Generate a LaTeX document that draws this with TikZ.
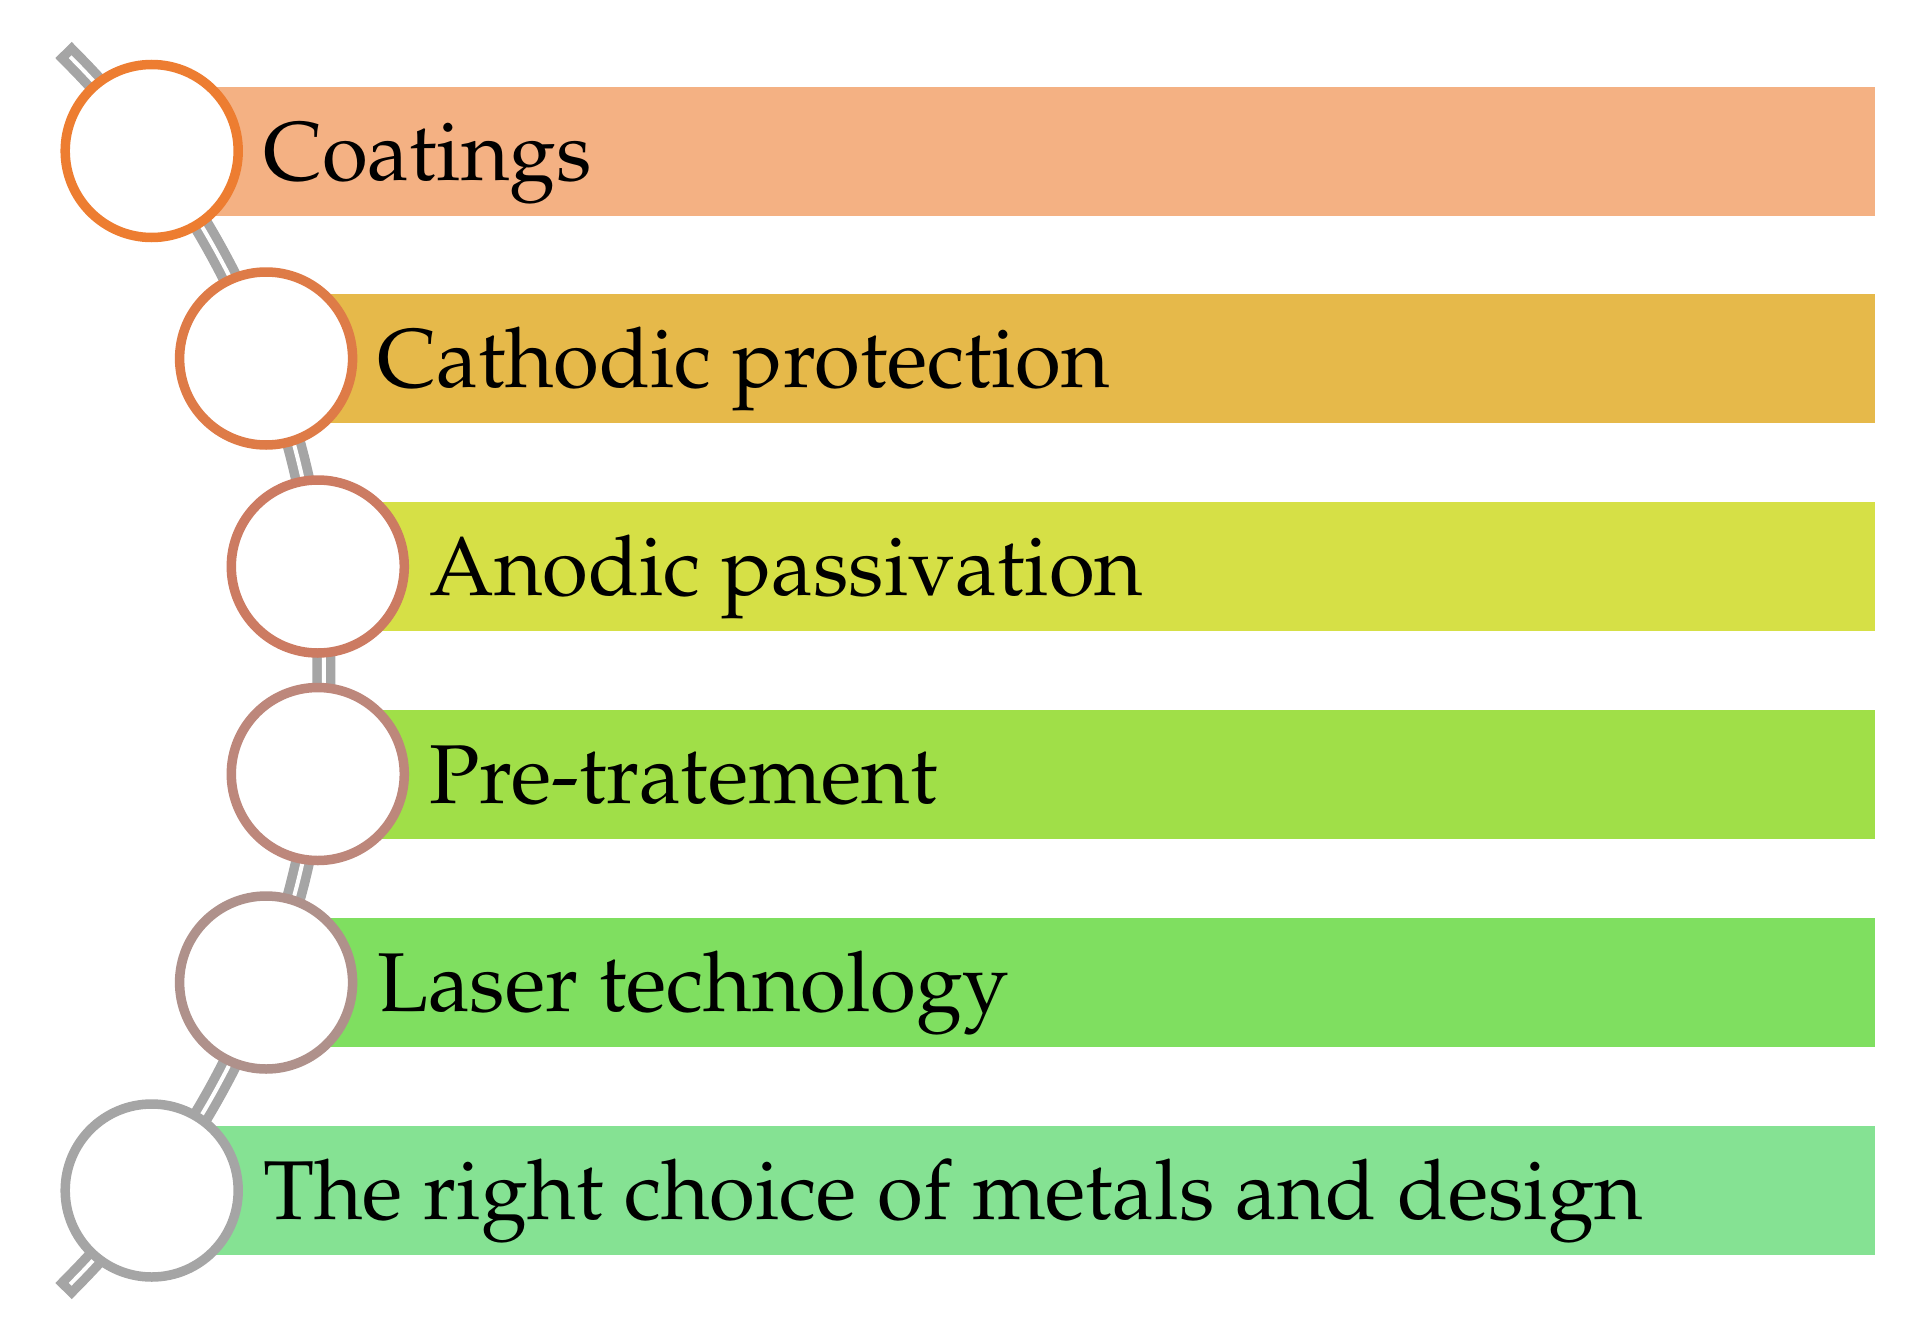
\documentclass[tikz,border=0pt]{standalone}
\usepackage[T1]{fontenc}
\usepackage{mathpazo}
\definecolor{barA}{HTML}{F4B183}
\definecolor{barB}{HTML}{E6B94A}
\definecolor{barC}{HTML}{D6E046}
\definecolor{barD}{HTML}{A0DF48}
\definecolor{barE}{HTML}{7FDF60}
\definecolor{barF}{HTML}{85E293}
\definecolor{ringA}{HTML}{ED7D31}
\definecolor{ringB}{HTML}{DE7B47}
\definecolor{ringC}{HTML}{CC7B62}
\definecolor{ringD}{HTML}{BD877B}
\definecolor{ringE}{HTML}{AF918B}
\definecolor{ringF}{HTML}{A5A5A5}
\definecolor{connc}{HTML}{A5A5A5}
\tikzset{
  conn/.style={draw=connc, double=white, line width=9.5pt, double distance=4pt, line cap=rect},
  ring/.style={circle, draw=#1, fill=white, line width=9.5pt, minimum size=173pt, inner sep=0pt},
  barbox/.style={fill=#1, draw=none},
  lbl/.style={anchor=base west, inner sep=0pt, font=\fontsize{83.5}{100}\selectfont, text=black}
}
\begin{document}
\begin{tikzpicture}[x=1pt,y=-1pt]
\useasboundingbox (0,0) rectangle (1911,1330);
% connector arc
\draw[conn] plot[domain=-44.8:44.8, samples=80, smooth] ({-545+869*cos(\x)},{670.5+869*sin(\x)});
% bars
\fill[barbox=barA] (152,86.5) rectangle (1875,215.5);
\fill[barbox=barB] (266,294) rectangle (1875,423);
\fill[barbox=barC] (318,502) rectangle (1875,631);
\fill[barbox=barD] (318,709.5) rectangle (1875,838.5);
\fill[barbox=barE] (266,918) rectangle (1875,1047);
\fill[barbox=barF] (152,1126) rectangle (1875,1255);
% circles
\node[ring=ringA] (c1) at (151.7,151) {};
\node[ring=ringB] (c2) at (266.1,358.5) {};
\node[ring=ringC] (c3) at (317.8,566.5) {};
\node[ring=ringD] (c4) at (317.8,774) {};
\node[ring=ringE] (c5) at (266.1,982.5) {};
\node[ring=ringF] (c6) at (151.7,1190.5) {};
% labels
\node[lbl] (t1) at (263,180) {Coatings};
\node[lbl] (t2) at (377,387.5) {Cathodic protection};
\node[lbl] (t3) at (429,595.5) {Anodic passivation};
\node[lbl] (t4) at (429,803) {Pre-tratement};
\node[lbl] (t5) at (377,1011.5) {Laser technology};
\node[lbl] (t6) at (263,1219.5) {The right choice of metals and design};
\end{tikzpicture}
\end{document}
